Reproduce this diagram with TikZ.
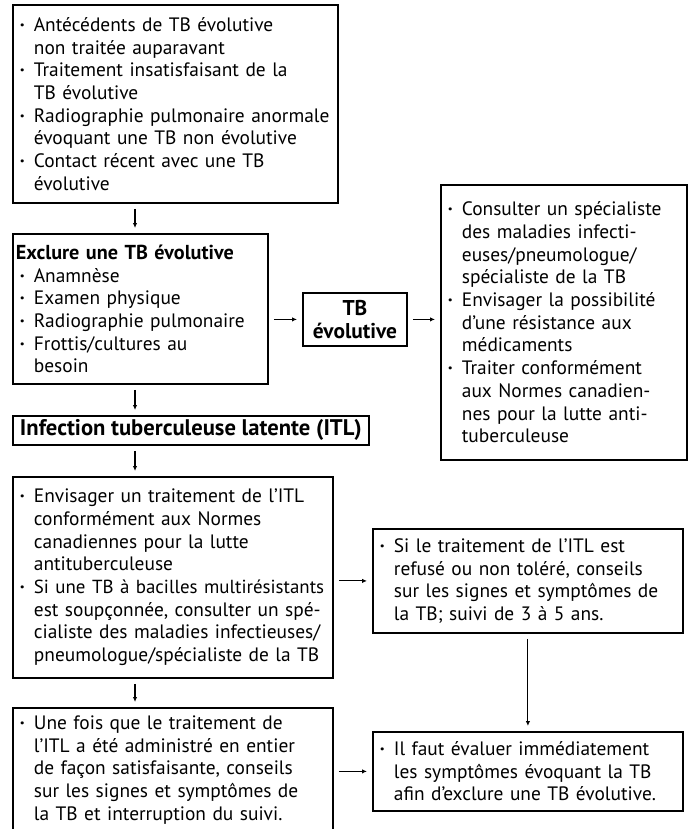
\documentclass[tikz,border=0pt]{standalone}
\usepackage{fontspec}
\setmainfont{PT Sans}
\usetikzlibrary{arrows.meta}
\newcommand{\bu}{\makebox[14pt][l]{\textbf{·}}}
\newcommand{\ind}{\hspace*{14pt}}

\begin{document}
\begin{tikzpicture}[x=1pt,y=1pt,
      box/.style={draw,line width=1.8pt,anchor=north west,align=left,inner xsep=7pt,inner ysep=2pt,
        font=\fontsize{19.4}{22.7}\selectfont},
      hd/.style={box,align=center,inner xsep=2pt,inner ysep=0pt,font=\fontsize{21.4}{22.7}\selectfont\bfseries},
      arr/.style={-{Latex[length=5pt,width=4.5pt]},line width=1.1pt,shorten <=5pt,shorten >=5pt}]
    \useasboundingbox (0,0) rectangle (690,-829);
    \node[box,text width=311pt,minimum height=198pt] (hist) at (12,-4)
      {\bu Antécédents de TB évolutive\\ \ind non traitée auparavant\\
       \bu Traitement insatisfaisant de la\\ \ind TB évolutive\\
       \bu Radiographie pulmonaire anormale\\ \ind évoquant une TB non évolutive\\
       \bu Contact récent avec une TB\\ \ind évolutive};
    \node[box,text width=241pt,minimum height=150pt] (excl) at (12,-233)
      {\hspace*{-4pt}{\fontsize{20.2}{22.7}\selectfont\bfseries Exclure une TB évolutive}\\
       \bu Anamnèse\\ \bu Examen physique\\ \bu Radiographie pulmonaire\\
       \bu Frottis/cultures au\\ \ind besoin};
    \node[hd,minimum width=104pt,minimum height=53pt] (tbev) at (302,-292) {TB\\évolutive};
    \node[box,text width=232pt,minimum height=275pt] (spec) at (440,-184)
      {\bu Consulter un spécialiste\\ \ind des maladies infecti-\\ \ind euses/pneumologue/\\ \ind spécialiste de la TB\\
       \bu Envisager la possibilité\\ \ind d’une résistance aux\\ \ind médicaments\\
       \bu Traiter conformément\\ \ind aux Normes canadien-\\ \ind nes pour la lutte anti-\\ \ind tuberculeuse};
    \node[hd,minimum width=356pt,minimum height=29pt,font=\fontsize{22.6}{24}\selectfont\bfseries] (itl) at (12,-415)
      {Infection tuberculeuse latente (ITL)};
    \node[box,text width=306pt,minimum height=201pt] (trt) at (12,-476)
      {\bu Envisager un traitement de l’ITL\\ \ind conformément aux Normes\\ \ind canadiennes pour la lutte\\ \ind antituberculeuse\\
       \bu \mbox{\fontsize{18.9}{22.7}\selectfont Si une TB à bacilles multirésistants}\\ \ind est soupçonnée, consulter un spé-\\
       \ind cialiste des maladies infectieuses/\\ \ind pneumologue/spécialiste de la TB};
    \node[box,text width=296pt,minimum height=104pt] (refus) at (372,-528)
      {\bu Si le traitement de l’ITL est\\ \ind refusé ou non toléré, conseils\\
       \ind sur les signes et symptômes de\\ \ind la TB; suivi de 3 à 5 ans.};
    \node[box,text width=296pt,minimum height=79pt] (eval) at (372,-731)
      {\bu Il faut évaluer immédiatement\\ \ind les symptômes évoquant la TB\\ \ind afin d’exclure une TB évolutive.};
    \node[box,text width=306pt,minimum height=124pt] (fin) at (12,-707)
      {\bu Une fois que le traitement de\\ \ind l’ITL a été administré en entier\\ \ind de façon satisfaisante, conseils\\
       \ind sur les signes et symptômes de\\ \ind la TB et interruption du suivi.};
    % left column arrows
    \coordinate (ax) at (135,0);
    \draw[arr] (hist.south -| ax) -- (excl.north -| ax);
    \draw[arr] (excl.south -| ax) -- (itl.north -| ax);
    \draw[arr] (itl.south -| ax) -- (trt.north -| ax);
    \draw[arr] (trt.south -| ax) -- (fin.north -| ax);
    % side arrows
    \draw[arr] (excl.east |- tbev.west) -- (tbev.west);
    \draw[arr] (tbev.east) -- (spec.west |- tbev.east);
    \draw[arr] (trt.east |- refus.west) -- (refus.west);
    \draw[arr] (refus.south) -- (eval.north);
    \draw[arr] (fin.east |- eval.west) -- (eval.west);
\end{tikzpicture}
\end{document}
